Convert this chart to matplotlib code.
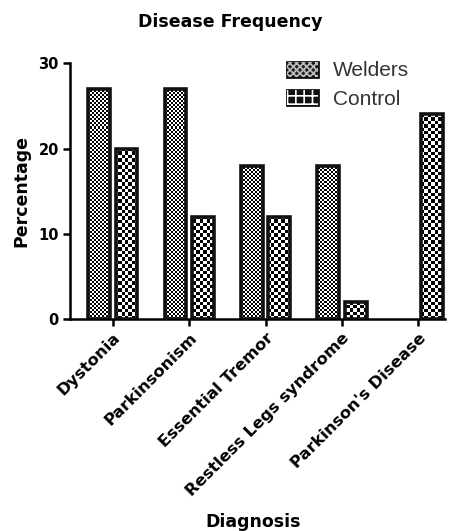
import matplotlib.pyplot as plt
import numpy as np
from matplotlib.patches import Patch

plt.rcParams["font.family"] = ["DejaVu Sans"]
plt.rcParams["hatch.linewidth"] = 1.2

# ---------------------------------------------------------------------------
# Data
# ---------------------------------------------------------------------------
diagnoses = ["Dystonia", "Parkinsonism", "Essential Tremor",
             "Restless Legs syndrome", "Parkinson's Disease"]
welders = [27, 27, 18, 18, 0]
control = [20, 12, 12, 2, 24]

x = np.arange(len(diagnoses))
W = 0.285
OFF = 0.18
XLIM = (-0.56, 4.35)
YLIM = (0, 30)

fig = plt.figure(figsize=(4.49, 5.31), dpi=100)
AX_POS = [0.156, 0.399, 0.835, 0.482]
ax = fig.add_axes(AX_POS)

# axes size in pixels -> used for the checker textures
ax_w_px = AX_POS[2] * 449
ax_h_px = AX_POS[3] * 531


def checker(cell):
    ny = int(round(ax_h_px / cell))
    nx = int(round(ax_w_px / cell))
    iy, ix = np.indices((ny, nx))
    return ((iy + ix) % 2).astype(float)


def textured_bars(xpos, vals, cell):
    lw = [2.6 if v > 0 else 0 for v in vals]
    bars = ax.bar(xpos, vals, width=W, facecolor="none", edgecolor="#111111",
                  linewidth=lw, zorder=3)
    tex = checker(cell)
    for b in bars:
        im = ax.imshow(tex, cmap="gray", vmin=0, vmax=1, aspect="auto",
                       interpolation="nearest",
                       extent=(XLIM[0], XLIM[1], YLIM[0], YLIM[1]), zorder=2)
        im.set_clip_path(b)
    return bars


textured_bars(x - OFF, welders, 2)
textured_bars(x + OFF, control, 3.4)

ax.set_xlim(*XLIM)
ax.set_ylim(*YLIM)
ax.set_yticks([0, 10, 20, 30])
ax.set_xticks(x)
ax.set_xticklabels(diagnoses, rotation=45, ha="right", rotation_mode="anchor",
                   fontsize=11.8, fontweight="bold")
for lab in ax.get_yticklabels():
    lab.set_fontweight("bold")
    lab.set_fontsize(10.5)

for s in ("top", "right"):
    ax.spines[s].set_visible(False)
for s in ("left", "bottom"):
    ax.spines[s].set_linewidth(1.8)
ax.tick_params(width=1.8, length=5, pad=3)

fig.text(0.512, 0.958, "Disease Frequency", fontsize=12.5, fontweight="bold",
         ha="center", va="center")
ax.set_ylabel("Percentage", fontsize=12.5, fontweight="bold", labelpad=6)
fig.text(0.563, 0.008, "Diagnosis", fontsize=12.5, fontweight="bold", ha="center")

# legend swatches: dark box with a light pattern on top
handles = [
    (Patch(facecolor="#222222", edgecolor="#111111", linewidth=2.0),
     Patch(facecolor="none", edgecolor="#bbbbbb", hatch="xxxxx", linewidth=0)),
    (Patch(facecolor="#111111", edgecolor="#111111", linewidth=2.0),
     Patch(facecolor="none", edgecolor="white", hatch="++", linewidth=0)),
]
leg = ax.legend(handles=handles, labels=["Welders", "Control"],
                loc="upper right", bbox_to_anchor=(0.955, 1.08),
                frameon=False, prop={"family": "Liberation Sans", "size": 15},
                handlelength=1.45, handleheight=0.75, handletextpad=0.75,
                labelspacing=0.45)
for t in leg.get_texts():
    t.set_color("#333333")

fig.savefig("out.png", dpi=100)
